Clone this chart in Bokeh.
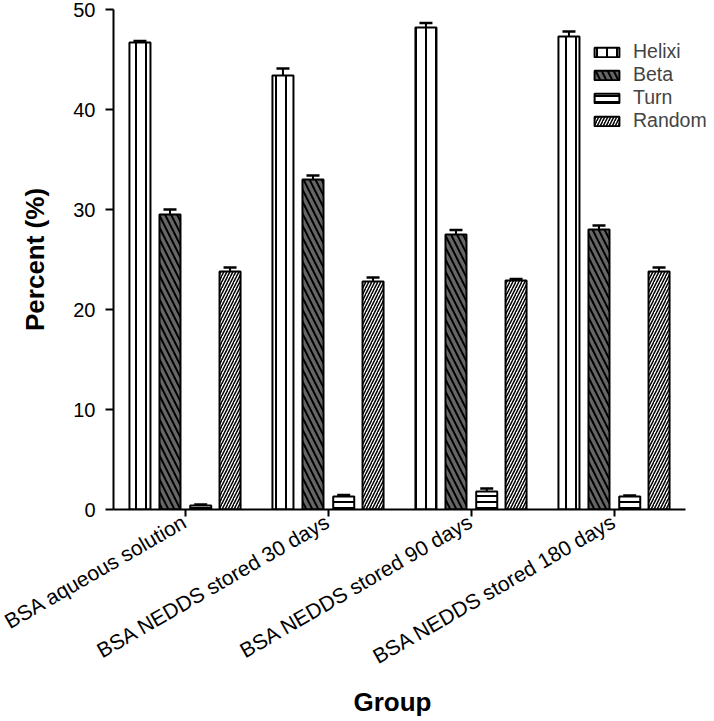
import math
from bokeh.plotting import figure
from bokeh.models import (ColumnDataSource, Range1d, Whisker, TeeHead,
                          Legend, LegendItem, FixedTicker, Title)
from bokeh.transform import dodge
from bokeh.embed import file_html
from bokeh.resources import INLINE

groups = ["BSA aqueous solution", "BSA NEDDS stored 30 days",
          "BSA NEDDS stored 90 days", "BSA NEDDS stored 180 days"]
series_names = ["Helixi", "Beta", "Turn", "Random"]
helixi = [46.7, 43.4, 48.2, 47.3]
helixi_err = [0.15, 0.7, 0.45, 0.5]
beta = [29.5, 33.0, 27.5, 28.0]
beta_err = [0.5, 0.4, 0.45, 0.4]
turn = [0.4, 1.3, 1.8, 1.3]
turn_err = [0.1, 0.15, 0.3, 0.1]
random_ = [23.8, 22.8, 22.9, 23.8]
random_err = [0.4, 0.4, 0.15, 0.4]
y_ticks = [0, 10, 20, 30, 40, 50]

FONT = "Liberation Sans"

# category centres on a numeric axis (one unit per group)
pos = [i + 0.5 for i in range(len(groups))]
n = len(groups)

p = figure(x_range=Range1d(0, n * 601 / 572), y_range=Range1d(0, 50),
           width=714, height=721, output_backend="svg", toolbar_location=None,
           min_border_left=113, min_border_right=0, min_border_top=9,
           min_border_bottom=212)
p.outline_line_color = None
p.xgrid.grid_line_color = None
p.ygrid.grid_line_color = None
p.background_fill_color = "white"

styles = [
    dict(fill_color="white", hatch_pattern="|", hatch_scale=10, hatch_weight=2, hatch_color="black"),
    dict(fill_color="#666666", hatch_pattern="\\", hatch_scale=12, hatch_weight=2, hatch_color="black"),
    dict(fill_color="white", hatch_pattern="-", hatch_scale=6, hatch_weight=2, hatch_color="black"),
    dict(fill_color="white", hatch_pattern="/", hatch_scale=6, hatch_weight=1.5, hatch_color="black"),
]
offsets = [-0.315, -0.105, 0.11, 0.315]
vals = [helixi, beta, turn, random_]
errs = [helixi_err, beta_err, turn_err, random_err]

items = []
for name, v, e, off, st in zip(series_names, vals, errs, offsets, styles):
    src = ColumnDataSource(dict(pos=pos, val=v, hi=[a + b for a, b in zip(v, e)]))
    w = Whisker(base=dodge("pos", off), upper="hi", lower="val",
                source=src, line_width=2, line_color="black",
                upper_head=TeeHead(size=13, line_width=2.5, line_color="black"),
                lower_head=None)
    p.add_layout(w)
    r = p.vbar(x=dodge("pos", off), top="val", width=0.147,
               source=src, line_color="black", line_width=2, **st)
    items.append(LegendItem(label=name, renderers=[r]))

legend = Legend(items=items, location=(478, 377), glyph_width=31, glyph_height=12,
                label_standoff=11, label_height=18, spacing=0, padding=0, margin=0,
                border_line_color=None, background_fill_alpha=0,
                label_text_font=FONT, label_text_font_size="19.5px")
p.add_layout(legend, "center")

for ax in (p.xaxis, p.yaxis):
    ax.axis_line_width = 2
    ax.axis_line_color = "black"
    ax.major_tick_line_width = 2
    ax.major_tick_line_color = "black"
    ax.major_tick_in = 0
    ax.minor_tick_line_color = None
    ax.major_label_text_font = FONT
    ax.major_label_text_color = "black"
    ax.axis_label_text_font = FONT
    ax.axis_label_text_font_size = "26px"
    ax.axis_label_text_font_style = "bold"
    ax.axis_label_text_color = "black"

p.yaxis.ticker = FixedTicker(ticks=y_ticks)
p.yaxis.major_label_text_font_size = "20px"
p.yaxis.major_tick_out = 8
p.yaxis.major_label_standoff = 10
p.yaxis.axis_label = "Percent (%)"
p.yaxis.axis_label_standoff = 20

p.xaxis.bounds = (0, n)
p.xaxis.ticker = FixedTicker(ticks=pos)
p.xaxis.major_label_overrides = {x: g for x, g in zip(pos, groups)}
p.xaxis.major_label_text_font_size = "21px"
p.xaxis.major_tick_out = 7
p.xaxis.major_label_orientation = math.pi / 6
p.xaxis.major_label_standoff = 3

# x-axis title, centred under the axis line (which stops before the legend)
xtitle = Title(text="Group", align="left", offset=240, text_font=FONT,
               text_font_size="26px", text_font_style="bold", text_color="black",
               standoff=8)
p.add_layout(xtitle, "below")

open("out.html", "w").write(file_html(p, INLINE))
